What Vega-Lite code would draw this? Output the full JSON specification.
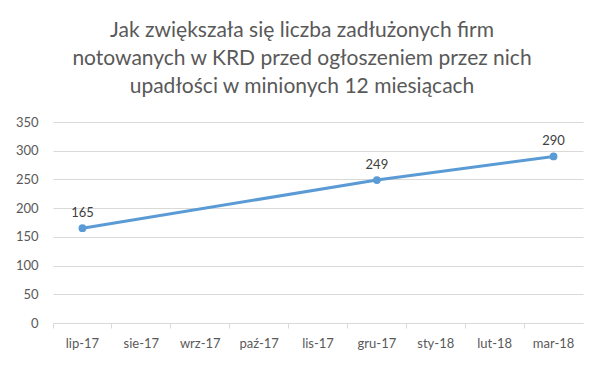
{
  "$schema": "https://vega.github.io/schema/vega-lite/v6.json",
  "width": 530,
  "height": 201,
  "autosize": "none",
  "padding": {"left": 53, "top": 122, "right": 22, "bottom": 43},
  "background": "white",
  "title": {
    "text": ["Jak zwiększała się liczba zadłużonych firm", "notowanych w KRD przed ogłoszeniem przez nich", "upadłości w minionych 12 miesiącach"],
    "fontSize": 21,
    "font": "Lato",
    "fontWeight": "normal",
    "color": "#595959",
    "lineHeight": 28,
    "anchor": "middle",
    "dx": -16,
    "offset": 19
  },
  "data": {
    "values": [
      {"miesiac": "lip-17", "liczba": 165},
      {"miesiac": "gru-17", "liczba": 249},
      {"miesiac": "mar-18", "liczba": 290}
    ]
  },
  "encoding": {
    "x": {
      "field": "miesiac",
      "type": "ordinal",
      "scale": {"type": "band", "domain": ["lip-17", "sie-17", "wrz-17", "paź-17", "lis-17", "gru-17", "sty-18", "lut-18", "mar-18"], "paddingInner": 0, "paddingOuter": 0},
      "axis": {
        "title": null,
        "labelAngle": 0,
        "labelFont": "Lato",
        "labelFontSize": 13,
        "labelColor": "#595959",
        "labelPadding": 9,
        "domainColor": "#d9d9d9",
        "tickColor": "#d9d9d9",
        "tickSize": 5,
        "bandPosition": 0,
        "grid": false
      }
    },
    "y": {
      "field": "liczba",
      "type": "quantitative",
      "scale": {"domain": [0, 350], "nice": false},
      "axis": {
        "title": null,
        "values": [0, 50, 100, 150, 200, 250, 300, 350],
        "labelFont": "Lato",
        "labelFontSize": 13,
        "labelColor": "#595959",
        "labelPadding": 15,
        "ticks": false,
        "domain": false,
        "gridColor": "#d9d9d9",
        "gridWidth": 1
      }
    }
  },
  "layer": [
    {
      "mark": {"type": "line", "color": "#5b9bd5", "strokeWidth": 3, "point": {"filled": true, "size": 60, "color": "#5b9bd5"}}
    },
    {
      "mark": {"type": "text", "dy": -15, "font": "Lato", "fontSize": 13, "color": "#404040"},
      "encoding": {"text": {"field": "liczba", "type": "quantitative"}}
    }
  ],
  "config": {"view": {"stroke": null}}
}
